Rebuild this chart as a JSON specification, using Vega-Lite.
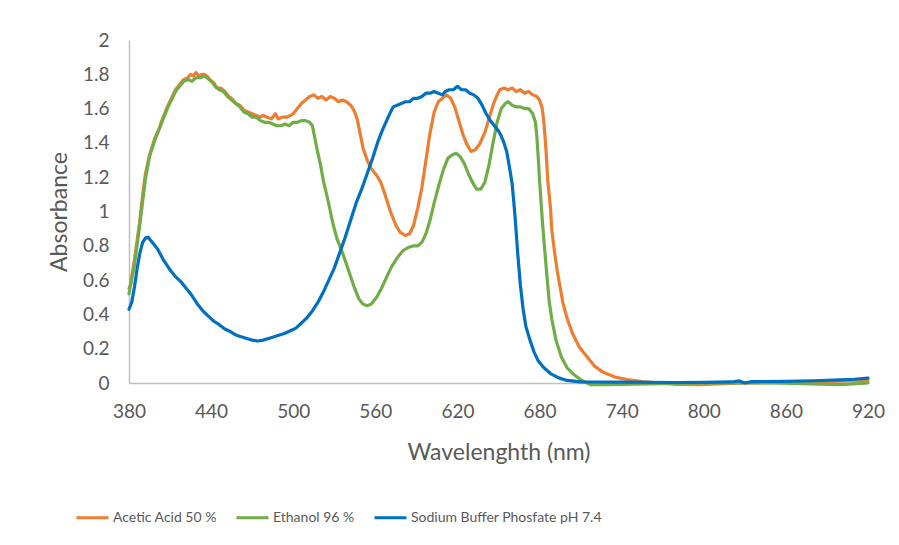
{
  "$schema": "https://vega.github.io/schema/vega-lite/v6.json",
  "width": 739,
  "height": 343,
  "autosize": {"type": "none"},
  "padding": {"left": 129, "top": 40, "right": 31, "bottom": 162},
  "background": "white",
  "config": {
    "view": {"stroke": null},
    "font": "Lato"
  },
  "data": {
    "values": [
      {"s": "Acetic Acid 50 %", "nm": 380, "a": 0.55},
      {"s": "Acetic Acid 50 %", "nm": 381, "a": 0.57},
      {"s": "Acetic Acid 50 %", "nm": 384, "a": 0.72},
      {"s": "Acetic Acid 50 %", "nm": 388, "a": 0.95},
      {"s": "Acetic Acid 50 %", "nm": 390, "a": 1.10},
      {"s": "Acetic Acid 50 %", "nm": 392, "a": 1.22},
      {"s": "Acetic Acid 50 %", "nm": 395, "a": 1.33},
      {"s": "Acetic Acid 50 %", "nm": 399, "a": 1.43},
      {"s": "Acetic Acid 50 %", "nm": 402, "a": 1.48},
      {"s": "Acetic Acid 50 %", "nm": 404, "a": 1.53},
      {"s": "Acetic Acid 50 %", "nm": 408, "a": 1.61},
      {"s": "Acetic Acid 50 %", "nm": 411, "a": 1.66},
      {"s": "Acetic Acid 50 %", "nm": 414, "a": 1.71},
      {"s": "Acetic Acid 50 %", "nm": 417, "a": 1.74},
      {"s": "Acetic Acid 50 %", "nm": 420, "a": 1.77},
      {"s": "Acetic Acid 50 %", "nm": 423, "a": 1.78},
      {"s": "Acetic Acid 50 %", "nm": 425, "a": 1.80},
      {"s": "Acetic Acid 50 %", "nm": 427, "a": 1.79},
      {"s": "Acetic Acid 50 %", "nm": 429, "a": 1.81},
      {"s": "Acetic Acid 50 %", "nm": 431, "a": 1.79},
      {"s": "Acetic Acid 50 %", "nm": 433, "a": 1.80},
      {"s": "Acetic Acid 50 %", "nm": 435, "a": 1.80},
      {"s": "Acetic Acid 50 %", "nm": 437, "a": 1.79},
      {"s": "Acetic Acid 50 %", "nm": 439, "a": 1.77},
      {"s": "Acetic Acid 50 %", "nm": 442, "a": 1.75},
      {"s": "Acetic Acid 50 %", "nm": 444, "a": 1.72},
      {"s": "Acetic Acid 50 %", "nm": 447, "a": 1.72},
      {"s": "Acetic Acid 50 %", "nm": 450, "a": 1.70},
      {"s": "Acetic Acid 50 %", "nm": 453, "a": 1.67},
      {"s": "Acetic Acid 50 %", "nm": 455, "a": 1.66},
      {"s": "Acetic Acid 50 %", "nm": 458, "a": 1.63},
      {"s": "Acetic Acid 50 %", "nm": 461, "a": 1.62},
      {"s": "Acetic Acid 50 %", "nm": 464, "a": 1.59},
      {"s": "Acetic Acid 50 %", "nm": 467, "a": 1.58},
      {"s": "Acetic Acid 50 %", "nm": 470, "a": 1.57},
      {"s": "Acetic Acid 50 %", "nm": 473, "a": 1.56},
      {"s": "Acetic Acid 50 %", "nm": 476, "a": 1.55},
      {"s": "Acetic Acid 50 %", "nm": 478, "a": 1.56},
      {"s": "Acetic Acid 50 %", "nm": 481, "a": 1.55},
      {"s": "Acetic Acid 50 %", "nm": 484, "a": 1.54},
      {"s": "Acetic Acid 50 %", "nm": 487, "a": 1.57},
      {"s": "Acetic Acid 50 %", "nm": 489, "a": 1.54},
      {"s": "Acetic Acid 50 %", "nm": 492, "a": 1.55},
      {"s": "Acetic Acid 50 %", "nm": 495, "a": 1.55},
      {"s": "Acetic Acid 50 %", "nm": 498, "a": 1.56},
      {"s": "Acetic Acid 50 %", "nm": 500, "a": 1.57},
      {"s": "Acetic Acid 50 %", "nm": 503, "a": 1.60},
      {"s": "Acetic Acid 50 %", "nm": 506, "a": 1.63},
      {"s": "Acetic Acid 50 %", "nm": 509, "a": 1.65},
      {"s": "Acetic Acid 50 %", "nm": 512, "a": 1.67},
      {"s": "Acetic Acid 50 %", "nm": 515, "a": 1.68},
      {"s": "Acetic Acid 50 %", "nm": 518, "a": 1.66},
      {"s": "Acetic Acid 50 %", "nm": 521, "a": 1.67},
      {"s": "Acetic Acid 50 %", "nm": 524, "a": 1.65},
      {"s": "Acetic Acid 50 %", "nm": 527, "a": 1.67},
      {"s": "Acetic Acid 50 %", "nm": 530, "a": 1.66},
      {"s": "Acetic Acid 50 %", "nm": 533, "a": 1.64},
      {"s": "Acetic Acid 50 %", "nm": 536, "a": 1.65},
      {"s": "Acetic Acid 50 %", "nm": 539, "a": 1.64},
      {"s": "Acetic Acid 50 %", "nm": 542, "a": 1.62},
      {"s": "Acetic Acid 50 %", "nm": 545, "a": 1.58},
      {"s": "Acetic Acid 50 %", "nm": 547, "a": 1.53},
      {"s": "Acetic Acid 50 %", "nm": 549, "a": 1.45},
      {"s": "Acetic Acid 50 %", "nm": 551, "a": 1.37},
      {"s": "Acetic Acid 50 %", "nm": 554, "a": 1.30},
      {"s": "Acetic Acid 50 %", "nm": 557, "a": 1.25},
      {"s": "Acetic Acid 50 %", "nm": 561, "a": 1.21},
      {"s": "Acetic Acid 50 %", "nm": 564, "a": 1.17},
      {"s": "Acetic Acid 50 %", "nm": 567, "a": 1.10},
      {"s": "Acetic Acid 50 %", "nm": 571, "a": 1.00},
      {"s": "Acetic Acid 50 %", "nm": 575, "a": 0.92},
      {"s": "Acetic Acid 50 %", "nm": 578, "a": 0.88},
      {"s": "Acetic Acid 50 %", "nm": 582, "a": 0.86},
      {"s": "Acetic Acid 50 %", "nm": 585, "a": 0.87},
      {"s": "Acetic Acid 50 %", "nm": 588, "a": 0.92},
      {"s": "Acetic Acid 50 %", "nm": 591, "a": 1.02},
      {"s": "Acetic Acid 50 %", "nm": 594, "a": 1.14},
      {"s": "Acetic Acid 50 %", "nm": 597, "a": 1.30},
      {"s": "Acetic Acid 50 %", "nm": 600, "a": 1.46},
      {"s": "Acetic Acid 50 %", "nm": 603, "a": 1.58},
      {"s": "Acetic Acid 50 %", "nm": 606, "a": 1.64},
      {"s": "Acetic Acid 50 %", "nm": 609, "a": 1.66},
      {"s": "Acetic Acid 50 %", "nm": 612, "a": 1.68},
      {"s": "Acetic Acid 50 %", "nm": 615, "a": 1.66},
      {"s": "Acetic Acid 50 %", "nm": 618, "a": 1.61},
      {"s": "Acetic Acid 50 %", "nm": 621, "a": 1.53},
      {"s": "Acetic Acid 50 %", "nm": 624, "a": 1.45},
      {"s": "Acetic Acid 50 %", "nm": 627, "a": 1.39},
      {"s": "Acetic Acid 50 %", "nm": 630, "a": 1.35},
      {"s": "Acetic Acid 50 %", "nm": 633, "a": 1.36},
      {"s": "Acetic Acid 50 %", "nm": 636, "a": 1.39},
      {"s": "Acetic Acid 50 %", "nm": 640, "a": 1.46},
      {"s": "Acetic Acid 50 %", "nm": 643, "a": 1.54},
      {"s": "Acetic Acid 50 %", "nm": 646, "a": 1.62},
      {"s": "Acetic Acid 50 %", "nm": 649, "a": 1.68},
      {"s": "Acetic Acid 50 %", "nm": 651, "a": 1.71},
      {"s": "Acetic Acid 50 %", "nm": 654, "a": 1.72},
      {"s": "Acetic Acid 50 %", "nm": 657, "a": 1.71},
      {"s": "Acetic Acid 50 %", "nm": 660, "a": 1.72},
      {"s": "Acetic Acid 50 %", "nm": 663, "a": 1.70},
      {"s": "Acetic Acid 50 %", "nm": 666, "a": 1.71},
      {"s": "Acetic Acid 50 %", "nm": 669, "a": 1.69},
      {"s": "Acetic Acid 50 %", "nm": 672, "a": 1.70},
      {"s": "Acetic Acid 50 %", "nm": 675, "a": 1.68},
      {"s": "Acetic Acid 50 %", "nm": 678, "a": 1.67},
      {"s": "Acetic Acid 50 %", "nm": 680, "a": 1.65},
      {"s": "Acetic Acid 50 %", "nm": 682, "a": 1.60},
      {"s": "Acetic Acid 50 %", "nm": 683, "a": 1.53},
      {"s": "Acetic Acid 50 %", "nm": 684, "a": 1.44},
      {"s": "Acetic Acid 50 %", "nm": 685, "a": 1.32},
      {"s": "Acetic Acid 50 %", "nm": 686, "a": 1.18},
      {"s": "Acetic Acid 50 %", "nm": 688, "a": 1.02},
      {"s": "Acetic Acid 50 %", "nm": 689, "a": 0.89},
      {"s": "Acetic Acid 50 %", "nm": 691, "a": 0.76},
      {"s": "Acetic Acid 50 %", "nm": 693, "a": 0.65},
      {"s": "Acetic Acid 50 %", "nm": 695, "a": 0.56},
      {"s": "Acetic Acid 50 %", "nm": 697, "a": 0.47},
      {"s": "Acetic Acid 50 %", "nm": 700, "a": 0.38},
      {"s": "Acetic Acid 50 %", "nm": 704, "a": 0.29},
      {"s": "Acetic Acid 50 %", "nm": 709, "a": 0.21},
      {"s": "Acetic Acid 50 %", "nm": 715, "a": 0.15},
      {"s": "Acetic Acid 50 %", "nm": 720, "a": 0.10},
      {"s": "Acetic Acid 50 %", "nm": 726, "a": 0.065},
      {"s": "Acetic Acid 50 %", "nm": 735, "a": 0.035},
      {"s": "Acetic Acid 50 %", "nm": 744, "a": 0.02},
      {"s": "Acetic Acid 50 %", "nm": 755, "a": 0.008},
      {"s": "Acetic Acid 50 %", "nm": 768, "a": 0.0},
      {"s": "Acetic Acid 50 %", "nm": 780, "a": -0.008},
      {"s": "Acetic Acid 50 %", "nm": 797, "a": -0.01},
      {"s": "Acetic Acid 50 %", "nm": 810, "a": -0.005},
      {"s": "Acetic Acid 50 %", "nm": 830, "a": 0.0},
      {"s": "Acetic Acid 50 %", "nm": 870, "a": 0.005},
      {"s": "Acetic Acid 50 %", "nm": 920, "a": 0.015},

      {"s": "Ethanol 96 %", "nm": 380, "a": 0.52},
      {"s": "Ethanol 96 %", "nm": 384, "a": 0.69},
      {"s": "Ethanol 96 %", "nm": 388, "a": 0.93},
      {"s": "Ethanol 96 %", "nm": 392, "a": 1.19},
      {"s": "Ethanol 96 %", "nm": 395, "a": 1.32},
      {"s": "Ethanol 96 %", "nm": 399, "a": 1.42},
      {"s": "Ethanol 96 %", "nm": 404, "a": 1.52},
      {"s": "Ethanol 96 %", "nm": 408, "a": 1.60},
      {"s": "Ethanol 96 %", "nm": 411, "a": 1.65},
      {"s": "Ethanol 96 %", "nm": 414, "a": 1.70},
      {"s": "Ethanol 96 %", "nm": 417, "a": 1.73},
      {"s": "Ethanol 96 %", "nm": 420, "a": 1.76},
      {"s": "Ethanol 96 %", "nm": 423, "a": 1.77},
      {"s": "Ethanol 96 %", "nm": 426, "a": 1.76},
      {"s": "Ethanol 96 %", "nm": 429, "a": 1.78},
      {"s": "Ethanol 96 %", "nm": 432, "a": 1.78},
      {"s": "Ethanol 96 %", "nm": 435, "a": 1.79},
      {"s": "Ethanol 96 %", "nm": 437, "a": 1.78},
      {"s": "Ethanol 96 %", "nm": 440, "a": 1.76},
      {"s": "Ethanol 96 %", "nm": 443, "a": 1.73},
      {"s": "Ethanol 96 %", "nm": 446, "a": 1.71},
      {"s": "Ethanol 96 %", "nm": 449, "a": 1.70},
      {"s": "Ethanol 96 %", "nm": 452, "a": 1.67},
      {"s": "Ethanol 96 %", "nm": 455, "a": 1.65},
      {"s": "Ethanol 96 %", "nm": 458, "a": 1.63},
      {"s": "Ethanol 96 %", "nm": 461, "a": 1.61},
      {"s": "Ethanol 96 %", "nm": 464, "a": 1.58},
      {"s": "Ethanol 96 %", "nm": 467, "a": 1.57},
      {"s": "Ethanol 96 %", "nm": 470, "a": 1.55},
      {"s": "Ethanol 96 %", "nm": 473, "a": 1.55},
      {"s": "Ethanol 96 %", "nm": 476, "a": 1.53},
      {"s": "Ethanol 96 %", "nm": 479, "a": 1.52},
      {"s": "Ethanol 96 %", "nm": 482, "a": 1.52},
      {"s": "Ethanol 96 %", "nm": 485, "a": 1.51},
      {"s": "Ethanol 96 %", "nm": 488, "a": 1.50},
      {"s": "Ethanol 96 %", "nm": 491, "a": 1.50},
      {"s": "Ethanol 96 %", "nm": 494, "a": 1.51},
      {"s": "Ethanol 96 %", "nm": 497, "a": 1.50},
      {"s": "Ethanol 96 %", "nm": 500, "a": 1.52},
      {"s": "Ethanol 96 %", "nm": 503, "a": 1.52},
      {"s": "Ethanol 96 %", "nm": 506, "a": 1.53},
      {"s": "Ethanol 96 %", "nm": 509, "a": 1.53},
      {"s": "Ethanol 96 %", "nm": 512, "a": 1.52},
      {"s": "Ethanol 96 %", "nm": 514, "a": 1.50},
      {"s": "Ethanol 96 %", "nm": 516, "a": 1.42},
      {"s": "Ethanol 96 %", "nm": 518, "a": 1.34},
      {"s": "Ethanol 96 %", "nm": 520, "a": 1.27},
      {"s": "Ethanol 96 %", "nm": 522, "a": 1.18},
      {"s": "Ethanol 96 %", "nm": 525, "a": 1.08},
      {"s": "Ethanol 96 %", "nm": 529, "a": 0.93},
      {"s": "Ethanol 96 %", "nm": 532, "a": 0.84},
      {"s": "Ethanol 96 %", "nm": 536, "a": 0.76},
      {"s": "Ethanol 96 %", "nm": 539, "a": 0.69},
      {"s": "Ethanol 96 %", "nm": 542, "a": 0.62},
      {"s": "Ethanol 96 %", "nm": 545, "a": 0.55},
      {"s": "Ethanol 96 %", "nm": 548, "a": 0.49},
      {"s": "Ethanol 96 %", "nm": 551, "a": 0.46},
      {"s": "Ethanol 96 %", "nm": 554, "a": 0.45},
      {"s": "Ethanol 96 %", "nm": 557, "a": 0.46},
      {"s": "Ethanol 96 %", "nm": 561, "a": 0.50},
      {"s": "Ethanol 96 %", "nm": 565, "a": 0.56},
      {"s": "Ethanol 96 %", "nm": 569, "a": 0.63},
      {"s": "Ethanol 96 %", "nm": 572, "a": 0.68},
      {"s": "Ethanol 96 %", "nm": 576, "a": 0.73},
      {"s": "Ethanol 96 %", "nm": 580, "a": 0.77},
      {"s": "Ethanol 96 %", "nm": 584, "a": 0.79},
      {"s": "Ethanol 96 %", "nm": 588, "a": 0.80},
      {"s": "Ethanol 96 %", "nm": 591, "a": 0.80},
      {"s": "Ethanol 96 %", "nm": 594, "a": 0.82},
      {"s": "Ethanol 96 %", "nm": 597, "a": 0.87},
      {"s": "Ethanol 96 %", "nm": 600, "a": 0.95},
      {"s": "Ethanol 96 %", "nm": 603, "a": 1.05},
      {"s": "Ethanol 96 %", "nm": 607, "a": 1.17},
      {"s": "Ethanol 96 %", "nm": 610, "a": 1.25},
      {"s": "Ethanol 96 %", "nm": 613, "a": 1.31},
      {"s": "Ethanol 96 %", "nm": 616, "a": 1.33},
      {"s": "Ethanol 96 %", "nm": 619, "a": 1.34},
      {"s": "Ethanol 96 %", "nm": 622, "a": 1.32},
      {"s": "Ethanol 96 %", "nm": 625, "a": 1.28},
      {"s": "Ethanol 96 %", "nm": 628, "a": 1.22},
      {"s": "Ethanol 96 %", "nm": 631, "a": 1.17},
      {"s": "Ethanol 96 %", "nm": 634, "a": 1.13},
      {"s": "Ethanol 96 %", "nm": 637, "a": 1.13},
      {"s": "Ethanol 96 %", "nm": 640, "a": 1.17},
      {"s": "Ethanol 96 %", "nm": 643, "a": 1.27},
      {"s": "Ethanol 96 %", "nm": 646, "a": 1.40},
      {"s": "Ethanol 96 %", "nm": 649, "a": 1.52},
      {"s": "Ethanol 96 %", "nm": 652, "a": 1.60},
      {"s": "Ethanol 96 %", "nm": 655, "a": 1.63},
      {"s": "Ethanol 96 %", "nm": 657, "a": 1.64},
      {"s": "Ethanol 96 %", "nm": 660, "a": 1.62},
      {"s": "Ethanol 96 %", "nm": 663, "a": 1.61},
      {"s": "Ethanol 96 %", "nm": 666, "a": 1.61},
      {"s": "Ethanol 96 %", "nm": 669, "a": 1.60},
      {"s": "Ethanol 96 %", "nm": 672, "a": 1.60},
      {"s": "Ethanol 96 %", "nm": 675, "a": 1.57},
      {"s": "Ethanol 96 %", "nm": 677, "a": 1.52},
      {"s": "Ethanol 96 %", "nm": 678, "a": 1.44},
      {"s": "Ethanol 96 %", "nm": 679, "a": 1.32},
      {"s": "Ethanol 96 %", "nm": 680, "a": 1.18},
      {"s": "Ethanol 96 %", "nm": 682, "a": 0.95},
      {"s": "Ethanol 96 %", "nm": 683, "a": 0.85},
      {"s": "Ethanol 96 %", "nm": 685, "a": 0.66},
      {"s": "Ethanol 96 %", "nm": 687, "a": 0.48},
      {"s": "Ethanol 96 %", "nm": 689, "a": 0.37},
      {"s": "Ethanol 96 %", "nm": 692, "a": 0.25},
      {"s": "Ethanol 96 %", "nm": 696, "a": 0.15},
      {"s": "Ethanol 96 %", "nm": 700, "a": 0.09},
      {"s": "Ethanol 96 %", "nm": 705, "a": 0.05},
      {"s": "Ethanol 96 %", "nm": 710, "a": 0.02},
      {"s": "Ethanol 96 %", "nm": 717, "a": -0.01},
      {"s": "Ethanol 96 %", "nm": 730, "a": -0.01},
      {"s": "Ethanol 96 %", "nm": 760, "a": -0.005},
      {"s": "Ethanol 96 %", "nm": 800, "a": 0.0},
      {"s": "Ethanol 96 %", "nm": 850, "a": 0.0},
      {"s": "Ethanol 96 %", "nm": 900, "a": -0.01},
      {"s": "Ethanol 96 %", "nm": 920, "a": 0.0},

      {"s": "Sodium Buffer Phosfate pH 7.4", "nm": 380, "a": 0.43},
      {"s": "Sodium Buffer Phosfate pH 7.4", "nm": 382, "a": 0.47},
      {"s": "Sodium Buffer Phosfate pH 7.4", "nm": 384, "a": 0.56},
      {"s": "Sodium Buffer Phosfate pH 7.4", "nm": 386, "a": 0.67},
      {"s": "Sodium Buffer Phosfate pH 7.4", "nm": 388, "a": 0.76},
      {"s": "Sodium Buffer Phosfate pH 7.4", "nm": 390, "a": 0.82},
      {"s": "Sodium Buffer Phosfate pH 7.4", "nm": 392, "a": 0.845},
      {"s": "Sodium Buffer Phosfate pH 7.4", "nm": 394, "a": 0.85},
      {"s": "Sodium Buffer Phosfate pH 7.4", "nm": 396, "a": 0.83},
      {"s": "Sodium Buffer Phosfate pH 7.4", "nm": 398, "a": 0.81},
      {"s": "Sodium Buffer Phosfate pH 7.4", "nm": 401, "a": 0.78},
      {"s": "Sodium Buffer Phosfate pH 7.4", "nm": 405, "a": 0.72},
      {"s": "Sodium Buffer Phosfate pH 7.4", "nm": 410, "a": 0.66},
      {"s": "Sodium Buffer Phosfate pH 7.4", "nm": 414, "a": 0.62},
      {"s": "Sodium Buffer Phosfate pH 7.4", "nm": 418, "a": 0.59},
      {"s": "Sodium Buffer Phosfate pH 7.4", "nm": 422, "a": 0.55},
      {"s": "Sodium Buffer Phosfate pH 7.4", "nm": 426, "a": 0.51},
      {"s": "Sodium Buffer Phosfate pH 7.4", "nm": 430, "a": 0.46},
      {"s": "Sodium Buffer Phosfate pH 7.4", "nm": 434, "a": 0.42},
      {"s": "Sodium Buffer Phosfate pH 7.4", "nm": 438, "a": 0.39},
      {"s": "Sodium Buffer Phosfate pH 7.4", "nm": 442, "a": 0.36},
      {"s": "Sodium Buffer Phosfate pH 7.4", "nm": 446, "a": 0.34},
      {"s": "Sodium Buffer Phosfate pH 7.4", "nm": 450, "a": 0.315},
      {"s": "Sodium Buffer Phosfate pH 7.4", "nm": 454, "a": 0.30},
      {"s": "Sodium Buffer Phosfate pH 7.4", "nm": 458, "a": 0.28},
      {"s": "Sodium Buffer Phosfate pH 7.4", "nm": 462, "a": 0.27},
      {"s": "Sodium Buffer Phosfate pH 7.4", "nm": 466, "a": 0.26},
      {"s": "Sodium Buffer Phosfate pH 7.4", "nm": 470, "a": 0.25},
      {"s": "Sodium Buffer Phosfate pH 7.4", "nm": 474, "a": 0.245},
      {"s": "Sodium Buffer Phosfate pH 7.4", "nm": 478, "a": 0.25},
      {"s": "Sodium Buffer Phosfate pH 7.4", "nm": 482, "a": 0.26},
      {"s": "Sodium Buffer Phosfate pH 7.4", "nm": 486, "a": 0.27},
      {"s": "Sodium Buffer Phosfate pH 7.4", "nm": 490, "a": 0.28},
      {"s": "Sodium Buffer Phosfate pH 7.4", "nm": 494, "a": 0.29},
      {"s": "Sodium Buffer Phosfate pH 7.4", "nm": 498, "a": 0.305},
      {"s": "Sodium Buffer Phosfate pH 7.4", "nm": 502, "a": 0.32},
      {"s": "Sodium Buffer Phosfate pH 7.4", "nm": 506, "a": 0.35},
      {"s": "Sodium Buffer Phosfate pH 7.4", "nm": 510, "a": 0.38},
      {"s": "Sodium Buffer Phosfate pH 7.4", "nm": 514, "a": 0.42},
      {"s": "Sodium Buffer Phosfate pH 7.4", "nm": 518, "a": 0.47},
      {"s": "Sodium Buffer Phosfate pH 7.4", "nm": 522, "a": 0.53},
      {"s": "Sodium Buffer Phosfate pH 7.4", "nm": 526, "a": 0.60},
      {"s": "Sodium Buffer Phosfate pH 7.4", "nm": 530, "a": 0.67},
      {"s": "Sodium Buffer Phosfate pH 7.4", "nm": 534, "a": 0.76},
      {"s": "Sodium Buffer Phosfate pH 7.4", "nm": 538, "a": 0.85},
      {"s": "Sodium Buffer Phosfate pH 7.4", "nm": 542, "a": 0.95},
      {"s": "Sodium Buffer Phosfate pH 7.4", "nm": 546, "a": 1.05},
      {"s": "Sodium Buffer Phosfate pH 7.4", "nm": 550, "a": 1.13},
      {"s": "Sodium Buffer Phosfate pH 7.4", "nm": 554, "a": 1.22},
      {"s": "Sodium Buffer Phosfate pH 7.4", "nm": 558, "a": 1.31},
      {"s": "Sodium Buffer Phosfate pH 7.4", "nm": 562, "a": 1.41},
      {"s": "Sodium Buffer Phosfate pH 7.4", "nm": 566, "a": 1.49},
      {"s": "Sodium Buffer Phosfate pH 7.4", "nm": 570, "a": 1.56},
      {"s": "Sodium Buffer Phosfate pH 7.4", "nm": 573, "a": 1.61},
      {"s": "Sodium Buffer Phosfate pH 7.4", "nm": 576, "a": 1.62},
      {"s": "Sodium Buffer Phosfate pH 7.4", "nm": 579, "a": 1.63},
      {"s": "Sodium Buffer Phosfate pH 7.4", "nm": 582, "a": 1.64},
      {"s": "Sodium Buffer Phosfate pH 7.4", "nm": 585, "a": 1.64},
      {"s": "Sodium Buffer Phosfate pH 7.4", "nm": 588, "a": 1.66},
      {"s": "Sodium Buffer Phosfate pH 7.4", "nm": 591, "a": 1.66},
      {"s": "Sodium Buffer Phosfate pH 7.4", "nm": 594, "a": 1.67},
      {"s": "Sodium Buffer Phosfate pH 7.4", "nm": 597, "a": 1.69},
      {"s": "Sodium Buffer Phosfate pH 7.4", "nm": 600, "a": 1.69},
      {"s": "Sodium Buffer Phosfate pH 7.4", "nm": 603, "a": 1.70},
      {"s": "Sodium Buffer Phosfate pH 7.4", "nm": 606, "a": 1.69},
      {"s": "Sodium Buffer Phosfate pH 7.4", "nm": 609, "a": 1.68},
      {"s": "Sodium Buffer Phosfate pH 7.4", "nm": 611, "a": 1.70},
      {"s": "Sodium Buffer Phosfate pH 7.4", "nm": 614, "a": 1.71},
      {"s": "Sodium Buffer Phosfate pH 7.4", "nm": 617, "a": 1.71},
      {"s": "Sodium Buffer Phosfate pH 7.4", "nm": 620, "a": 1.73},
      {"s": "Sodium Buffer Phosfate pH 7.4", "nm": 623, "a": 1.71},
      {"s": "Sodium Buffer Phosfate pH 7.4", "nm": 626, "a": 1.71},
      {"s": "Sodium Buffer Phosfate pH 7.4", "nm": 629, "a": 1.69},
      {"s": "Sodium Buffer Phosfate pH 7.4", "nm": 632, "a": 1.68},
      {"s": "Sodium Buffer Phosfate pH 7.4", "nm": 635, "a": 1.66},
      {"s": "Sodium Buffer Phosfate pH 7.4", "nm": 638, "a": 1.62},
      {"s": "Sodium Buffer Phosfate pH 7.4", "nm": 641, "a": 1.57},
      {"s": "Sodium Buffer Phosfate pH 7.4", "nm": 644, "a": 1.53},
      {"s": "Sodium Buffer Phosfate pH 7.4", "nm": 647, "a": 1.50},
      {"s": "Sodium Buffer Phosfate pH 7.4", "nm": 650, "a": 1.47},
      {"s": "Sodium Buffer Phosfate pH 7.4", "nm": 652, "a": 1.44},
      {"s": "Sodium Buffer Phosfate pH 7.4", "nm": 654, "a": 1.40},
      {"s": "Sodium Buffer Phosfate pH 7.4", "nm": 656, "a": 1.35},
      {"s": "Sodium Buffer Phosfate pH 7.4", "nm": 658, "a": 1.26},
      {"s": "Sodium Buffer Phosfate pH 7.4", "nm": 660, "a": 1.16},
      {"s": "Sodium Buffer Phosfate pH 7.4", "nm": 662, "a": 0.98},
      {"s": "Sodium Buffer Phosfate pH 7.4", "nm": 664, "a": 0.76},
      {"s": "Sodium Buffer Phosfate pH 7.4", "nm": 666, "a": 0.57},
      {"s": "Sodium Buffer Phosfate pH 7.4", "nm": 668, "a": 0.43},
      {"s": "Sodium Buffer Phosfate pH 7.4", "nm": 670, "a": 0.33},
      {"s": "Sodium Buffer Phosfate pH 7.4", "nm": 673, "a": 0.25},
      {"s": "Sodium Buffer Phosfate pH 7.4", "nm": 676, "a": 0.18},
      {"s": "Sodium Buffer Phosfate pH 7.4", "nm": 679, "a": 0.13},
      {"s": "Sodium Buffer Phosfate pH 7.4", "nm": 683, "a": 0.09},
      {"s": "Sodium Buffer Phosfate pH 7.4", "nm": 688, "a": 0.055},
      {"s": "Sodium Buffer Phosfate pH 7.4", "nm": 694, "a": 0.03},
      {"s": "Sodium Buffer Phosfate pH 7.4", "nm": 700, "a": 0.015},
      {"s": "Sodium Buffer Phosfate pH 7.4", "nm": 710, "a": 0.007},
      {"s": "Sodium Buffer Phosfate pH 7.4", "nm": 740, "a": 0.005},
      {"s": "Sodium Buffer Phosfate pH 7.4", "nm": 780, "a": 0.003},
      {"s": "Sodium Buffer Phosfate pH 7.4", "nm": 800, "a": 0.004},
      {"s": "Sodium Buffer Phosfate pH 7.4", "nm": 820, "a": 0.006},
      {"s": "Sodium Buffer Phosfate pH 7.4", "nm": 826, "a": 0.012},
      {"s": "Sodium Buffer Phosfate pH 7.4", "nm": 830, "a": 0.0},
      {"s": "Sodium Buffer Phosfate pH 7.4", "nm": 835, "a": 0.008},
      {"s": "Sodium Buffer Phosfate pH 7.4", "nm": 860, "a": 0.01},
      {"s": "Sodium Buffer Phosfate pH 7.4", "nm": 880, "a": 0.013},
      {"s": "Sodium Buffer Phosfate pH 7.4", "nm": 900, "a": 0.018},
      {"s": "Sodium Buffer Phosfate pH 7.4", "nm": 910, "a": 0.022},
      {"s": "Sodium Buffer Phosfate pH 7.4", "nm": 920, "a": 0.028}
    ]
  },
  "mark": {"type": "line", "strokeWidth": 3.2, "clip": false, "strokeJoin": "round", "strokeCap": "round"},
  "encoding": {
    "x": {
      "field": "nm",
      "type": "quantitative",
      "scale": {"domain": [380, 920], "nice": false, "zero": false},
      "axis": {
        "title": "Wavelenghth (nm)",
        "values": [380, 440, 500, 560, 620, 680, 740, 800, 860, 920],
        "grid": false,
        "ticks": false,
        "labelFlush": false,
        "labelOverlap": false,
        "domainColor": "#BFBFBF",
        "domainWidth": 1.5,
        "labelFont": "Lato",
        "labelFontSize": 19,
        "labelColor": "#595959",
        "labelPadding": 19,
        "titleFont": "Lato",
        "titleFontSize": 23,
        "titleFontWeight": "normal",
        "titleColor": "#595959",
        "titlePadding": 20
      }
    },
    "y": {
      "field": "a",
      "type": "quantitative",
      "scale": {"domain": [0, 2], "nice": false, "zero": false},
      "axis": {
        "title": "Absorbance",
        "values": [0, 0.2, 0.4, 0.6, 0.8, 1, 1.2, 1.4, 1.6, 1.8, 2],
        "format": ".1~f",
        "grid": false,
        "ticks": false,
        "labelFlush": false,
        "labelOverlap": false,
        "domainColor": "#BFBFBF",
        "domainWidth": 1.5,
        "labelFont": "Lato",
        "labelFontSize": 19,
        "labelColor": "#595959",
        "labelPadding": 20,
        "titleFont": "Lato",
        "titleFontSize": 23,
        "titleFontWeight": "normal",
        "titleColor": "#595959",
        "titlePadding": 11
      }
    },
    "color": {
      "field": "s",
      "type": "nominal",
      "scale": {
        "domain": ["Acetic Acid 50 %", "Ethanol 96 %", "Sodium Buffer Phosfate pH 7.4"],
        "range": ["#ED7D31", "#70AD47", "#0070C0"]
      },
      "legend": {
        "title": null,
        "orient": "none",
        "direction": "horizontal",
        "legendX": -54,
        "legendY": 460,
        "symbolType": "stroke",
        "symbolStrokeWidth": 3,
        "symbolSize": 1024,
        "labelFont": "Lato",
        "labelFontSize": 14,
        "labelLimit": 0,
        "labelColor": "#595959",
        "labelOffset": 3,
        "columnPadding": 13
      }
    }
  }
}
